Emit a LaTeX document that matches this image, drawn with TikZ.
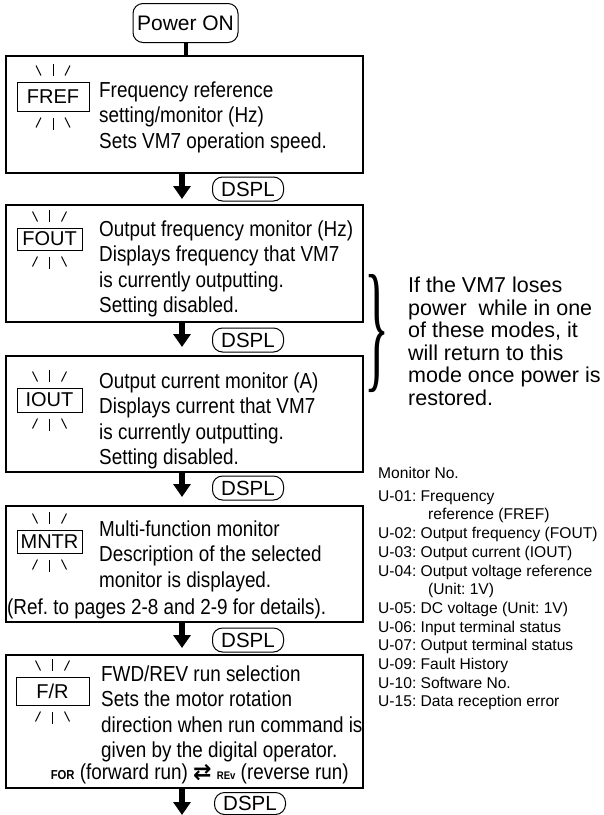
\documentclass[tikz,border=0pt]{standalone}
\usepackage{fontspec,graphicx}
\setmainfont{Liberation Sans}
\newfontfamily\condfont[FakeStretch=0.87]{Liberation Sans}
\newfontfamily\bracefont{Liberation Serif}
\newfontfamily\symbfont{DejaVu Sans}
\frenchspacing
\usetikzlibrary{arrows.meta}

\newcommand{\lines}[1]{\begin{tabular}{@{}l@{}}#1\end{tabular}}

\tikzset{
  modebox/.style={draw, line width=1.2pt, minimum width=357pt, inner sep=0pt},
  blinkbox/.style={draw, line width=1pt, inner sep=0pt, font=\fontsize{20}{20}\selectfont},
  dsplkey/.style={draw, line width=1pt, rounded corners=10pt, inner sep=0pt,
    minimum width=71pt, minimum height=24pt, font=\fontsize{20.5}{20.5}\selectfont},
  desc/.style={anchor=north west, inner sep=0pt,
    font=\condfont\fontsize{21.7}{25.5}\selectfont},
  bigarrow/.style={line width=6pt, -{Triangle[width=17pt,length=13pt]}},
  ray/.style={line width=1pt},
  note/.style={anchor=north west, align=left, inner sep=0pt},
}

\begin{document}
\begin{tikzpicture}[x=1pt, y=-1pt]
\useasboundingbox (0,0) rectangle (604,815);

\node[dsplkey, minimum width=105pt, minimum height=39pt, font=\fontsize{21}{21}\selectfont] (power) at (185.5,23) {Power ON};

% the five modes
\node[modebox, minimum height=117pt] (fref) at (184.5,114.5) {};
\node[modebox, minimum height=117pt] (fout) at (184.5,263.5) {};
\node[modebox, minimum height=116pt] (iout) at (184.5,414) {};
\node[modebox, minimum height=116pt] (mntr) at (184.5,564) {};
\node[modebox, minimum height=133pt] (fr) at (184.5,721.5) {};

\node[blinkbox, minimum width=72pt, minimum height=29pt] (frefkey) at (53,96.5) {FREF};
\node[blinkbox, minimum width=65pt, minimum height=22pt] (foutkey) at (49.5,239) {FOUT};
\node[blinkbox, minimum width=65pt, minimum height=24pt] (ioutkey) at (49.5,400) {IOUT};
\node[blinkbox, minimum width=65pt, minimum height=23pt] (mntrkey) at (49.5,541.5) {MNTR};
\node[blinkbox, minimum width=73pt, minimum height=28pt] (frkey) at (52.5,691) {F/R};

\foreach \k in {frefkey,foutkey,ioutkey,mntrkey,frkey} {
  \draw[ray] ([yshift=6pt]\k.north) -- +(0,12pt);
  \draw[ray] ([xshift=-12pt,yshift=6pt]\k.north) -- +(-5pt,10pt);
  \draw[ray] ([xshift=12pt,yshift=6pt]\k.north) -- +(5pt,10pt);
  \draw[ray] ([yshift=-6pt]\k.south) -- +(0,-12pt);
  \draw[ray] ([xshift=-12pt,yshift=-6pt]\k.south) -- +(-5pt,-10pt);
  \draw[ray] ([xshift=12pt,yshift=-6pt]\k.south) -- +(5pt,-10pt);
}

\node[desc] (freftext) at (99,79) {\lines{Frequency reference\\setting/monitor (Hz)\\Sets VM7 operation speed.}};
\node[desc] (fouttext) at (99,218) {\lines{Output frequency monitor (Hz)\\Displays frequency that VM7\\is currently outputting.\\Setting disabled.}};
\node[desc] (iouttext) at (99,370) {\lines{Output current monitor (A)\\Displays current that VM7\\is currently outputting.\\Setting disabled.}};
\node[desc] (mntrtext) at (99,518) {\lines{Multi-function monitor\\Description of the selected\\monitor is displayed.}};
\node[desc] (mntrref) at (7,596) {\lines{(Ref. to pages 2-8 and 2-9 for details).}};
\node[desc] (frtext) at (101,663) {\lines{FWD/REV run selection\\Sets the motor rotation\\direction when run command is\\given by the digital operator.}};
\node[desc, anchor=base east] (frchoice) at (349,779)
  {{\bfseries\fontsize{13}{13}\selectfont FOR} (forward run) {\symbfont\bfseries\fontsize{22}{22}\selectfont ⇄} {\bfseries\fontsize{11}{11}\selectfont REv} (reverse run)};

% DSPL steps
\node[dsplkey] (dspl1) at (248,189) {DSPL};
\node[dsplkey] (dspl2) at (248,340) {DSPL};
\node[dsplkey] (dspl3) at (248,488) {DSPL};
\node[dsplkey] (dspl4) at (248,640) {DSPL};
\node[dsplkey, minimum height=22pt] (dspl5) at (250,803.5) {DSPL};

\coordinate (d1) at (182,199);
\coordinate (d2) at (182,347);
\coordinate (d3) at (182,497);
\coordinate (d4) at (182,648);
\coordinate (d5) at (182,815);

\draw[line width=4pt] (power.south) -- (power.south |- fref.north);
\draw[bigarrow] (d1 |- fref.south) -- (d1);
\draw[bigarrow] (d2 |- fout.south) -- (d2);
\draw[bigarrow] (d3 |- iout.south) -- (d3);
\draw[bigarrow] (d4 |- mntr.south) -- (d4);
\draw[bigarrow] (d5 |- fr.south) -- (d5);

% power loss note
\node[inner sep=0pt] (brace) at (377,333.5) {\resizebox{25pt}{99pt}{\bracefont\}}};
\node[note, font=\fontsize{21.5}{22.5}\selectfont] (lossnote) at (408,277)
  {If the VM7 loses\\power\ \ while in one\\of these modes, it\\will return to this\\mode once power is\\restored.};

% monitor list
\node[note, font=\fontsize{15.6}{18.7}\selectfont] (monlist) at (378,467)
  {Monitor No.\\[4pt]
   U-01: Frequency\\
   \hspace*{50pt}reference (FREF)\\
   U-02: Output frequency (FOUT)\\
   U-03: Output current (IOUT)\\
   U-04: Output voltage reference\\
   \hspace*{50pt}(Unit: 1V)\\
   U-05: DC voltage (Unit: 1V)\\
   U-06: Input terminal status\\
   U-07: Output terminal status\\
   U-09: Fault History\\
   U-10: Software No.\\
   U-15: Data reception error};
\end{tikzpicture}
\end{document}
